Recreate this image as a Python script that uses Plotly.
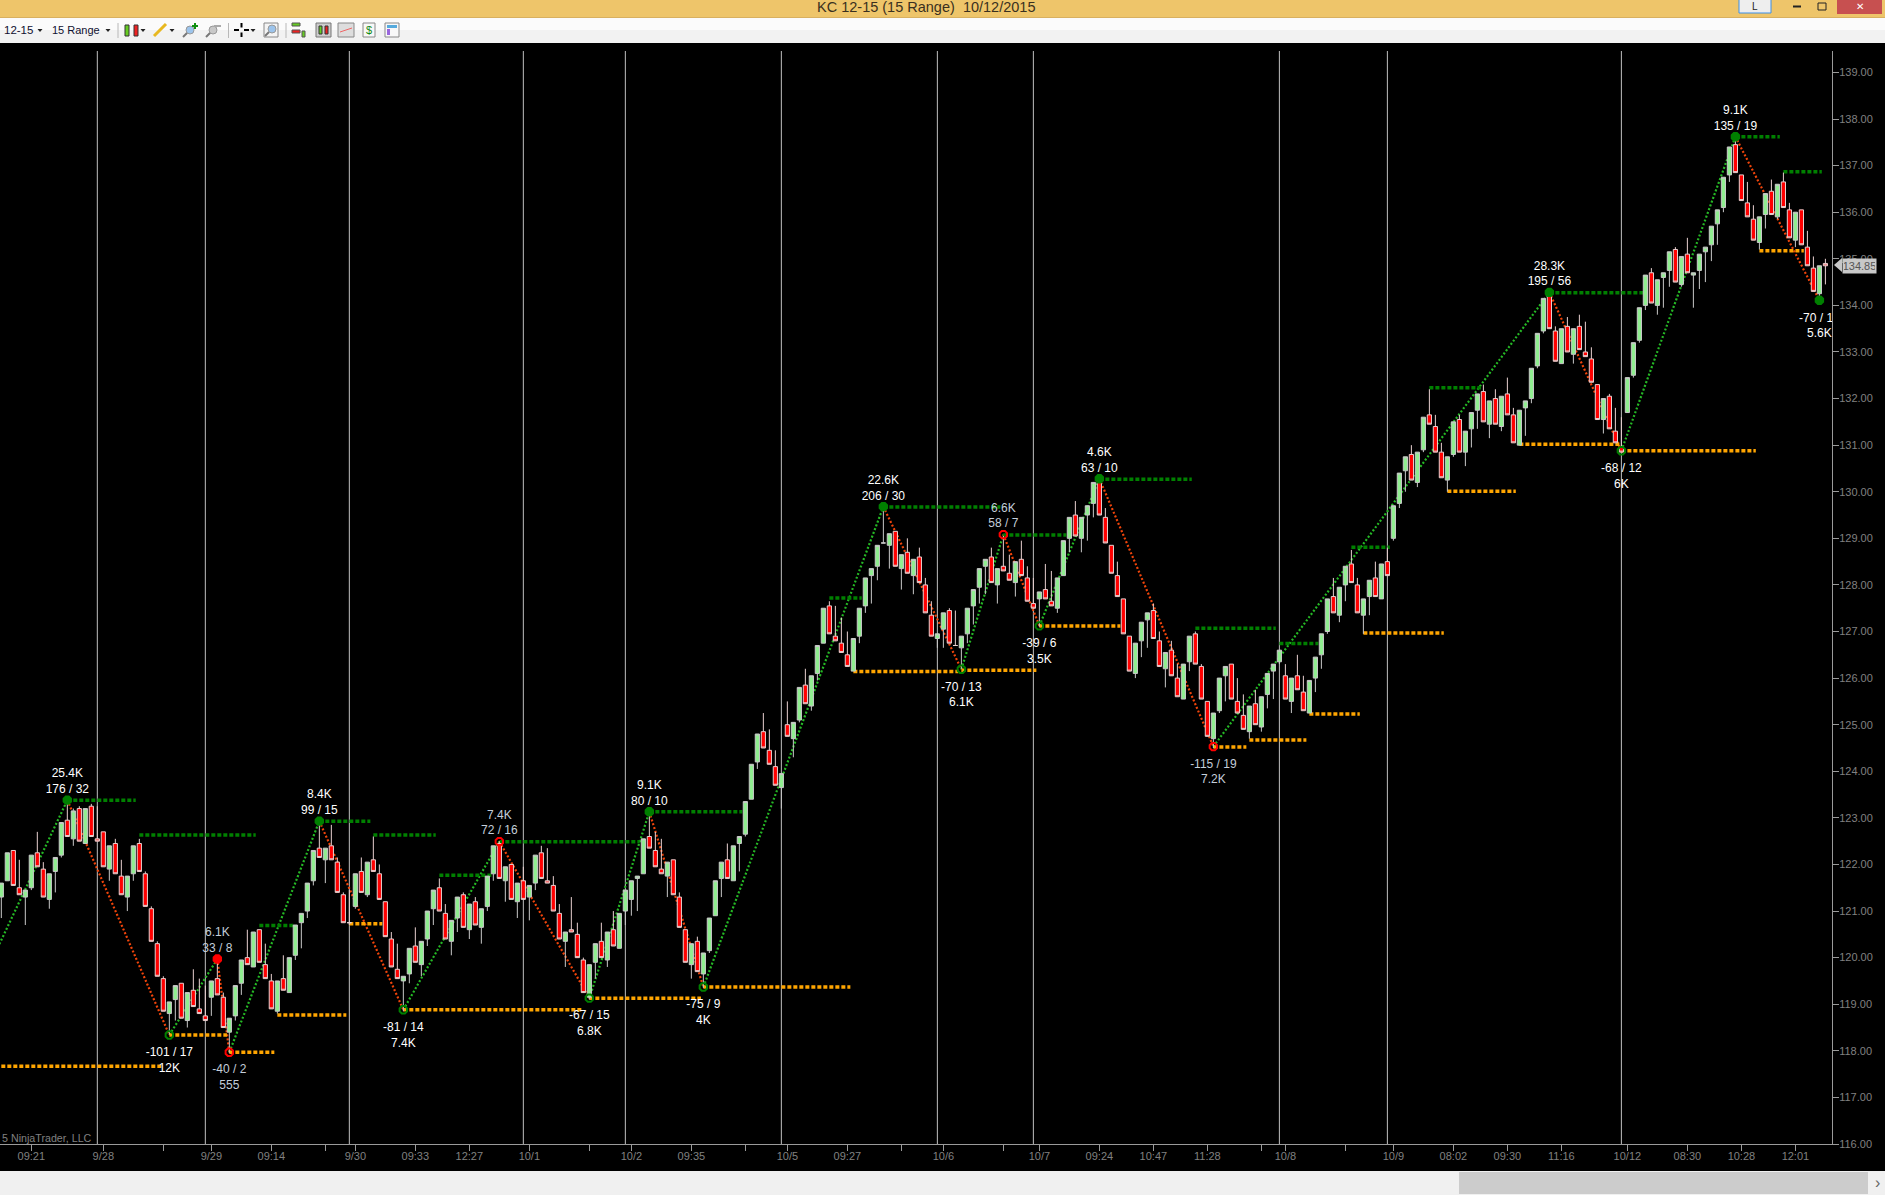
import plotly.graph_objects as go

# Candles, one per 15 range bar
opens = [121.30,121.65,122.30,121.50,121.30,121.50,122.25,121.90,121.25,121.85,
    122.20,122.95,122.55,123.20,122.45,123.25,122.55,122.70,121.90,122.45,
    121.75,121.30,121.80,122.45,121.80,121.05,120.30,119.55,118.80,119.10,
    119.45,118.65,119.30,118.90,118.75,119.15,119.55,119.15,118.40,118.75,
    119.45,120.00,119.80,120.60,119.85,119.50,118.85,119.55,119.25,120.05,
    120.75,121.00,121.65,122.35,122.10,122.40,122.05,121.35,120.75,121.10,
    121.85,121.35,122.10,121.80,121.20,120.40,119.75,119.50,119.65,120.25,
    119.85,120.40,121.05,121.50,120.95,120.35,120.85,121.35,120.60,121.20,
    120.65,121.10,121.80,122.45,121.65,122.00,121.20,121.65,121.30,121.60,
    122.25,121.65,121.55,120.95,120.35,120.60,120.50,119.95,119.15,119.90,
    120.35,119.95,120.60,120.20,121.00,121.25,121.70,121.80,122.60,122.30,
    121.90,121.75,122.10,121.30,120.60,119.85,120.35,119.65,120.15,120.90,
    121.70,122.10,121.65,122.45,122.65,123.40,124.20,124.85,124.45,124.10,
    123.65,125.00,124.70,125.10,125.85,125.40,126.10,126.75,127.55,126.90,
    126.75,126.50,126.15,126.90,127.55,128.20,128.40,128.90,128.85,129.15,
    128.35,128.70,128.20,128.60,128.00,127.35,126.85,127.05,127.45,126.70,
    126.65,126.95,127.55,127.95,128.40,128.60,128.00,128.40,128.25,128.05,
    128.55,128.15,127.60,127.70,127.90,127.65,127.50,128.20,129.00,129.50,
    129.00,129.50,129.75,130.25,129.45,128.85,128.20,127.70,126.90,126.10,
    126.80,127.25,127.45,126.80,126.20,126.60,126.00,125.55,126.35,126.95,
    126.25,125.50,124.70,125.30,126.05,126.30,125.50,125.20,124.85,125.45,
    124.95,125.65,126.15,126.35,126.05,125.50,126.05,125.70,125.25,126.00,
    126.50,127.00,127.75,127.35,128.00,128.45,128.00,127.35,127.75,128.15,
    127.70,128.50,129.00,129.75,130.45,130.80,130.20,130.90,131.65,131.40,
    130.85,130.25,130.80,131.55,130.85,131.35,131.75,132.15,131.45,132.00,
    131.40,132.10,131.65,131.00,131.80,132.00,132.70,133.45,134.20,133.45,
    132.75,133.55,132.95,133.55,133.00,132.85,132.30,131.55,132.05,131.30,
    130.95,131.70,132.50,133.25,134.00,134.70,134.00,134.60,134.75,135.20,
    134.45,135.10,134.65,134.75,135.15,135.30,135.75,136.10,136.80,137.45,
    136.80,136.20,135.85,135.35,135.95,136.45,135.90,136.65,136.05,135.40,
    136.05,135.25,134.80,134.25,134.90]
highs = [121.60,122.25,122.30,122.10,121.45,122.20,122.70,122.05,121.80,122.15,
    122.90,123.35,123.20,123.25,123.20,123.30,123.25,122.70,122.40,122.55,
    122.10,121.75,122.40,122.55,121.85,121.10,120.35,119.60,119.05,119.40,
    119.45,119.25,119.75,119.55,119.40,119.50,119.95,119.25,118.70,119.40,
    119.95,120.60,120.55,120.60,120.30,119.65,119.50,120.05,120.00,120.70,
    120.95,121.60,122.30,122.90,122.35,122.85,122.15,121.40,121.45,121.80,
    122.15,122.05,122.60,122.00,121.20,120.55,120.30,119.60,120.20,120.65,
    120.35,121.00,121.45,121.70,121.15,120.80,121.30,121.40,121.15,121.30,
    121.05,121.75,122.40,122.50,121.95,122.00,121.60,121.95,121.55,122.20,
    122.40,122.35,121.75,121.15,120.55,121.30,120.75,120.00,119.85,120.30,
    120.75,120.55,121.00,120.95,121.45,121.65,121.75,122.55,123.10,122.70,
    122.55,122.05,122.10,121.40,120.60,120.30,120.45,120.10,120.85,121.65,
    122.05,122.45,122.40,122.60,123.35,124.15,124.80,125.25,124.90,124.45,
    123.95,125.50,125.05,125.80,126.20,126.05,126.70,127.50,127.65,127.55,
    127.30,127.00,126.85,127.50,128.15,128.35,128.85,129.65,129.10,129.15,
    128.65,129.00,128.55,128.80,128.15,127.65,126.95,127.40,127.50,127.45,
    126.90,127.50,127.90,128.35,128.55,128.80,128.35,129.05,128.65,128.50,
    128.95,128.40,128.15,127.85,128.45,128.30,128.15,128.95,129.45,129.80,
    129.45,129.70,130.20,130.25,129.65,128.85,128.50,127.70,126.90,126.75,
    127.20,127.40,127.60,127.00,126.55,126.80,126.30,126.30,126.90,127.00,
    126.30,125.50,125.25,126.00,126.25,126.30,126.00,125.65,125.40,125.75,
    125.60,126.10,126.30,126.60,126.30,126.00,126.50,126.05,125.95,126.45,
    126.95,127.70,128.15,127.95,128.40,128.75,128.15,127.70,128.10,128.50,
    128.45,128.80,129.70,130.40,130.75,131.00,130.85,131.60,132.20,131.65,
    131.05,130.75,131.50,131.65,131.30,131.70,132.10,132.30,131.95,132.20,
    132.05,132.45,131.80,131.75,131.95,132.65,133.40,134.15,134.30,133.55,
    133.50,133.75,133.50,133.80,133.65,133.10,132.30,132.00,132.10,131.80,
    131.60,132.45,133.20,133.95,134.65,134.80,134.55,134.70,135.15,135.25,
    135.05,135.45,134.70,135.10,135.25,135.70,136.05,136.75,137.40,137.60,
    136.80,136.65,136.15,135.90,136.40,136.70,136.60,136.85,136.20,136.00,
    136.05,135.60,135.05,134.85,135.00]
lows = [120.85,121.65,121.55,121.35,120.70,121.45,121.95,121.30,121.05,121.40,
    122.15,122.60,122.40,122.50,122.45,122.60,122.50,121.95,121.65,121.80,
    121.35,121.00,121.65,121.85,121.10,120.35,119.60,118.85,118.35,118.65,
    118.70,118.50,118.95,118.80,118.65,118.75,119.20,118.50,117.95,118.65,
    119.20,119.85,119.80,119.90,119.55,118.90,118.80,119.30,119.25,119.95,
    120.20,120.85,121.55,122.15,121.60,122.10,121.40,120.75,120.70,121.05,
    121.40,121.30,121.85,121.25,120.45,119.80,119.55,118.85,119.45,119.90,
    119.60,120.25,120.70,121.00,120.40,120.05,120.55,120.65,120.40,120.70,
    120.30,121.00,121.65,121.70,121.20,121.25,120.85,121.25,120.80,121.45,
    121.70,121.60,121.00,120.40,119.80,120.55,120.00,119.25,119.10,119.55,
    120.00,119.80,120.25,120.20,120.70,120.90,121.00,121.80,122.35,121.95,
    121.80,121.30,121.35,120.65,119.90,119.55,119.70,119.35,120.10,120.90,
    121.30,121.70,121.65,121.85,122.60,123.40,124.05,124.50,124.15,123.70,
    123.20,124.75,124.30,125.05,125.45,125.30,125.95,126.75,126.95,126.80,
    126.55,126.25,126.15,126.75,127.40,127.60,128.10,128.90,128.35,128.40,
    127.90,128.25,127.80,128.05,127.40,126.90,126.65,126.65,126.75,126.70,
    126.20,126.75,127.15,127.60,127.80,128.05,127.60,128.30,128.10,127.75,
    128.20,127.65,127.50,127.10,127.70,127.55,127.40,128.20,128.70,129.05,
    128.70,128.95,129.45,129.50,128.90,128.25,127.75,126.95,126.15,126.00,
    126.45,126.65,126.85,126.25,125.80,126.05,125.60,125.55,126.15,126.30,
    125.55,124.75,124.50,125.25,125.50,125.55,125.25,124.90,124.70,125.00,
    124.85,125.35,125.55,126.30,125.55,125.25,125.75,125.30,125.25,125.70,
    126.20,126.95,127.40,127.20,127.65,128.05,127.40,126.95,127.35,127.75,
    127.70,128.20,128.95,129.65,130.00,130.25,130.10,130.85,131.45,130.85,
    130.30,130.00,130.75,130.85,130.55,130.95,131.35,131.50,131.15,131.45,
    131.30,131.65,131.05,131.00,131.20,131.90,132.65,133.40,133.50,132.80,
    132.75,133.00,132.75,133.05,132.90,132.35,131.55,131.25,131.35,131.05,
    130.85,131.70,132.45,133.20,133.90,134.05,133.80,133.95,134.40,134.50,
    134.40,134.70,133.95,134.35,134.50,134.95,135.30,136.00,136.65,136.85,
    136.25,135.90,135.40,135.20,135.65,135.95,135.85,136.10,135.45,135.25,
    135.30,134.85,134.30,134.10,134.45]
closes = [121.60,122.25,121.55,121.35,121.45,122.20,121.95,121.30,121.80,122.15,
    122.90,122.60,123.15,122.50,123.20,122.60,122.50,121.95,122.40,121.80,
    121.35,121.75,122.40,121.85,121.10,120.35,119.60,118.85,119.05,119.40,
    118.70,119.25,118.95,118.80,118.65,119.50,119.20,118.50,118.70,119.40,
    119.95,119.85,120.55,119.90,119.55,118.90,119.50,119.30,120.00,120.70,
    120.95,121.60,122.30,122.15,122.35,122.10,121.40,120.75,120.75,121.80,
    121.40,122.05,121.85,121.25,120.45,119.80,119.55,119.60,120.20,119.90,
    120.35,121.00,121.45,121.00,120.40,120.80,121.30,120.65,121.15,120.70,
    121.05,121.75,122.40,121.70,121.95,121.25,121.60,121.25,121.55,122.20,
    121.70,121.60,121.00,120.40,120.55,120.55,120.00,119.25,119.85,120.30,
    120.00,120.55,120.25,120.95,121.45,121.65,121.75,122.55,122.35,121.95,
    121.80,122.05,121.35,120.65,119.90,120.30,119.70,120.10,120.85,121.65,
    122.05,121.70,122.40,122.60,123.35,124.15,124.80,124.50,124.15,123.70,
    123.95,124.75,125.05,125.80,125.45,126.05,126.70,127.50,126.95,126.80,
    126.55,126.25,126.85,127.50,128.15,128.35,128.85,128.90,129.10,128.40,
    128.65,128.25,128.55,128.05,127.40,126.90,126.95,127.40,126.75,126.70,
    126.90,127.50,127.90,128.35,128.55,128.05,128.35,128.30,128.10,128.50,
    128.20,127.65,127.50,127.85,127.70,127.55,128.15,128.95,129.45,129.05,
    129.45,129.70,130.20,129.50,128.90,128.25,127.75,126.95,126.15,126.75,
    127.20,127.40,126.85,126.25,126.55,126.05,125.60,126.30,126.90,126.30,
    125.55,124.75,125.25,126.00,126.25,125.55,125.25,124.90,125.40,125.00,
    125.60,126.10,126.30,126.60,125.55,126.00,125.75,125.30,125.95,126.45,
    126.95,127.70,127.40,127.95,128.40,128.05,127.40,127.70,128.10,127.75,
    128.45,128.20,129.70,130.40,130.75,130.25,130.85,131.60,131.45,130.85,
    130.30,130.75,131.50,130.85,131.30,131.70,132.10,131.50,131.95,131.45,
    132.05,131.65,131.05,131.75,131.95,132.65,133.40,134.15,133.50,132.80,
    133.50,133.00,133.50,133.05,132.90,132.35,131.55,132.00,131.35,131.05,
    130.85,132.45,133.20,133.95,134.65,134.05,134.55,134.70,135.15,134.50,
    135.05,134.70,134.70,135.10,135.25,135.70,136.05,136.75,137.40,136.85,
    136.25,135.90,135.40,135.90,136.40,135.95,136.60,136.10,135.45,136.00,
    135.30,134.85,134.30,134.85,134.85]

# Swing points of the zigzag, the first one is off screen to the left
swing_bars = [-10, 11, 28, 36, 38, 53, 67, 83, 98, 108, 117, 147, 160, 167, 173, 183, 202, 258, 270, 289, 303]
swing_prices = [117.65, 123.38, 118.34, 119.97, 117.97, 122.93, 118.88, 122.49, 119.13, 123.13, 119.37,
                129.68, 126.19, 129.08, 127.12, 130.28, 124.53, 134.28, 130.88, 137.62, 134.11]
swing_labels = ["", "25.4K<br>176 / 32", "-101 / 17<br>12K", "6.1K<br>33 / 8", "-40 / 2<br>555",
                "8.4K<br>99 / 15", "-81 / 14<br>7.4K", "7.4K<br>72 / 16", "-67 / 15<br>6.8K",
                "9.1K<br>80 / 10", "-75 / 9<br>4K", "22.6K<br>206 / 30", "-70 / 13<br>6.1K",
                "6.6K<br>58 / 7", "-39 / 6<br>3.5K", "4.6K<br>63 / 10", "-115 / 19<br>7.2K",
                "28.3K<br>195 / 56", "-68 / 12<br>6K", "9.1K<br>135 / 19", "-70 / 19<br>5.6K"]
# Which swings got the red marker, and which markers are filled in
red_swings = [36, 38, 83, 167, 202]
filled_swings = [11, 36, 53, 108, 147, 183, 258, 289, 303]

# Dotted levels: first bar, last bar, price
green_starts = [11, 23, 43, 53, 62, 73, 83, 108, 138, 147, 167, 183, 199, 213, 225, 238, 258, 289, 297]
green_ends = [22.4, 42.4, 48.7, 61.5, 72.4, 82, 106.4, 123.5, 143.4, 166.5, 177.5, 198.4, 212.4, 219.5, 231.4, 246.6, 274, 296.4, 303.4]
green_levels = [123.38, 122.63, 120.69, 122.93, 122.63, 121.77, 122.49, 123.13, 127.72, 129.67, 129.07,
                130.27, 127.07, 126.74, 128.81, 132.23, 134.27, 137.62, 136.87]
orange_starts = [-10, 28, 38, 46, 58, 67, 98, 117, 142, 160, 173, 202, 208, 218, 227, 241, 253, 270, 293]
orange_ends = [27, 37.6, 45.5, 57.5, 63.5, 97, 116.6, 141.5, 159.5, 172.5, 186.5, 207.5, 217.5, 226.4, 240.4, 252.4, 269.7, 292.4, 300.4]
orange_levels = [117.67, 118.34, 117.97, 118.77, 120.73, 118.88, 119.13, 119.37, 126.14, 126.17, 127.12,
                 124.52, 124.67, 125.23, 126.97, 130.01, 131.02, 130.88, 135.17]

session_bars = [16, 34, 58, 87, 104, 130, 156, 172, 213, 231, 270]
tick_bars = [5, 17, 27, 35, 45, 54, 59, 69, 78, 88, 98, 105, 115, 124, 131, 141, 150, 157, 167, 173, 183, 192,
             201, 210, 214, 224, 232, 242, 251, 260, 271, 281, 290, 299]
tick_labels = ["09:21", "9/28", "", "9/29", "09:14", "", "9/30", "09:33", "12:27", "10/1", "", "10/2", "09:35", "",
               "10/5", "09:27", "", "10/6", "", "10/7", "09:24", "10:47", "11:28", "", "10/8", "", "10/9", "08:02",
               "09:30", "11:16", "10/12", "08:30", "10:28", "12:01"]
price_ticks = list(range(116, 140))
last_price = 134.85

FONT = "Liberation Sans"
X_RANGE = [-0.22, 305.1]
Y_RANGE = [116, 139.46]
FIG_W, FIG_H = 1885, 1195
M_TOP, M_BOTTOM, M_RIGHT = 51, 51, 53


def level_trace(starts, ends, levels, color):
    xs, ys = [], []
    for a, b, p in zip(starts, ends, levels):
        xs += [a, b, None]
        ys += [p, p, None]
    return go.Scatter(x=xs, y=ys, mode="lines", hoverinfo="skip", showlegend=False,
                      line=dict(color=color, width=3.5, dash="4px,2px"))


fig = go.Figure()

# Bottom layer: zigzag and levels, so the candles cover them
for n in range(len(swing_bars) - 1):
    color = "#25B825" if swing_prices[n + 1] > swing_prices[n] else "#F0440A"
    fig.add_trace(go.Scatter(x=swing_bars[n:n + 2], y=swing_prices[n:n + 2], mode="lines", hoverinfo="skip",
                             showlegend=False, line=dict(color=color, width=2.2, dash="2px,2px")))
fig.add_trace(level_trace(green_starts, green_ends, green_levels, "#008000"))
fig.add_trace(level_trace(orange_starts, orange_ends, orange_levels, "#FFA500"))

# Candles on the first overlay
fig.add_trace(go.Candlestick(
    x=list(range(len(opens))), open=opens, high=highs, low=lows, close=closes,
    xaxis="x2", yaxis="y2", hoverinfo="skip", showlegend=False, whiskerwidth=0,
    increasing=dict(fillcolor="#90EE90", line=dict(color="#C8C8C8", width=1)),
    decreasing=dict(fillcolor="#FF0000", line=dict(color="#E8D0D0", width=1)),
))

# Swing markers and their labels on the second overlay
marker_line = ["#FF0000" if b in red_swings else "#008000" for b in swing_bars]
marker_fill = [c if b in filled_swings else "rgba(0,0,0,0)" for b, c in zip(swing_bars, marker_line)]
fig.add_trace(go.Scatter(x=swing_bars, y=swing_prices, mode="markers", xaxis="x3", yaxis="y3", hoverinfo="skip",
                         showlegend=False,
                         marker=dict(symbol="octagon", size=8, color=marker_fill, line=dict(color=marker_line, width=2))))

for side, size, pos in [(1, 5, "top center"), (-1, 18, "bottom center")]:
    idx = [n for n in range(1, len(swing_bars)) if (swing_prices[n] - swing_prices[n - 1]) * side > 0]
    fig.add_trace(go.Scatter(
        x=[swing_bars[n] for n in idx], y=[swing_prices[n] for n in idx],
        text=[swing_labels[n] for n in idx], mode="markers+text", textposition=pos,
        xaxis="x3", yaxis="y3", hoverinfo="skip", showlegend=False,
        marker=dict(size=size, opacity=0),
        textfont=dict(family=FONT, size=12, color=["#C4CEDA" if swing_bars[n] in red_swings else "#FFFFFF" for n in idx]),
    ))

for b in session_bars:
    fig.add_shape(type="line", x0=b, x1=b, y0=0, y1=1, xref="x", yref="y domain", layer="below",
                  line=dict(color="#C0C0C0", width=1))


# Window furniture around the chart is placed by screen pixel
plot_h = FIG_H - M_TOP - M_BOTTOM
plot_w = FIG_W - M_RIGHT


def sx(px):
    return px / plot_w


def sy(py):
    return (FIG_H - M_BOTTOM - py) / plot_h


def box(x0, y0, x1, y1, color, line=None):
    fig.add_shape(type="rect", xref="paper", yref="paper", x0=sx(x0), x1=sx(x1), y0=sy(y0), y1=sy(y1),
                  fillcolor=color, line=dict(color=line or color, width=1 if line else 0), layer="above")


def stroke(x0, y0, x1, y1, color, width=1):
    fig.add_shape(type="line", xref="paper", yref="paper", x0=sx(x0), x1=sx(x1), y0=sy(y0), y1=sy(y1),
                  line=dict(color=color, width=width), layer="above")


def label(px, py, text, color="#000000", size=12, anchor="left", **kw):
    fig.add_annotation(xref="paper", yref="paper", x=sx(px), y=sy(py), text=text, showarrow=False,
                       xanchor=anchor, yanchor="middle", font=dict(family=FONT, size=size, color=color), **kw)


def arrow(px, py):
    fig.add_shape(type="path", xref="paper", yref="paper", layer="above", fillcolor="#222222", line=dict(width=0),
                  path=f"M {sx(px - 2.5)} {sy(py - 1)} L {sx(px + 2.5)} {sy(py - 1)} L {sx(px)} {sy(py + 2)} Z")


# Title bar
box(0, 0, FIG_W, 17, "#EEC56A")
stroke(0, 17.5, FIG_W, 17.5, "#D8B060")
label(925.5, 7, "KC 12-15 (15 Range)  10/12/2015", color="#3A3020", size=14.5, anchor="center")
box(1739, -1, 1771, 13, "#EEEEEE", "#3B8FE8")
label(1755, 6, "L", color="#222222", size=10, anchor="center")
stroke(1793, 6.5, 1801, 6.5, "#222222", 2)
box(1818, 3, 1826, 10, "rgba(0,0,0,0)", "#222222")
box(1837, 0, 1882, 14, "#C75050")
label(1859.5, 6, "✕", color="#FFFFFF", size=10, anchor="center")

# Toolbar
box(0, 18, FIG_W, 30, "#FBFBFB")
box(0, 30, FIG_W, 43, "#F2F2F2")
label(2, 30, "12-15", color="#101030", size=11.5)
arrow(40, 30)
label(50, 30, "15 Range", color="#101030", size=11)
arrow(108, 30)
for px in [118, 228.5, 286]:
    stroke(px, 23, px, 38, "#B8B8B8")
# chart style, drawing tool and the other buttons
box(125, 25, 129, 36, "#66CC22", "#333333")
box(134, 25, 138, 36, "#EE2222", "#333333")
arrow(143, 30)
stroke(154, 36, 166, 24, "#E8B820", 3)
arrow(172, 30)
for px, col in [(189, "#9CC4EC"), (212, "#C8C8C8")]:
    stroke(px - 6, 37, px - 1, 32, "#777777", 2)
    fig.add_shape(type="circle", xref="paper", yref="paper", x0=sx(px - 3), x1=sx(px + 5), y0=sy(26), y1=sy(34),
                  fillcolor=col, line=dict(color="#999999", width=1), layer="above")
stroke(192, 26, 198, 26, "#109010", 2)
stroke(195, 23, 195, 29, "#109010", 2)
stroke(214, 26, 221, 26, "#AAAAAA", 2)
for a, b, c, d in [(234, 30, 239, 30), (244, 30, 249, 30), (241.5, 23, 241.5, 27.5), (241.5, 32.5, 241.5, 37)]:
    stroke(a, b, c, d, "#000000", 2)
arrow(253, 30)
box(264, 23, 278, 37, "#F4F4F4", "#888888")
stroke(265, 36, 269, 32, "#777777", 2)
fig.add_shape(type="circle", xref="paper", yref="paper", x0=sx(268), x1=sx(276), y0=sy(25), y1=sy(33),
              fillcolor="#9CC4EC", line=dict(color="#999999", width=1), layer="above")
box(292, 23, 300, 26, "#66CC22", "#555555")
box(292, 30, 300, 33, "#EE2222", "#555555")
box(302, 31, 305, 37, "#66CC22", "#555555")
box(316, 23, 331, 37, "#CCCCCC", "#777777")
box(319, 26, 322, 34, "#66CC22", "#333333")
box(325, 26, 328, 34, "#EE2222", "#333333")
box(338, 23, 354, 37, "#DDDDDD", "#888888")
stroke(340, 32, 352, 28, "#EE6666", 1)
box(363, 23, 375, 37, "#F8F8F8", "#888888")
label(369, 30, "$", color="#118811", size=11, anchor="center")
box(385, 23, 399, 37, "#F8F8F8", "#888888")
box(387, 25, 397, 28, "#55AADD")
box(387, 29, 390, 35, "#9966DD")

# Scrollbar along the bottom
box(0, 1171, FIG_W, FIG_H, "#F0F0F0")
box(1459, 1172, 1868, 1194, "#CCCCCC")
label(1877, 1182, "›", color="#666666", size=16, anchor="center")

# Copyright line, cut off at the left edge in the original
label(0, 1138, "5 NinjaTrader, LLC", color="#808080", size=10.7, anchor="left")

# Last price flag on the price axis
fig.add_shape(type="path", xref="paper", yref="paper", fillcolor="#C8C8C8", line=dict(width=0), layer="above",
              path=f"M {sx(1834)} {sy(265)} L {sx(1842)} {sy(258)} L {sx(1842)} {sy(272)} Z")
fig.add_annotation(xref="paper", yref="y", x=sx(1842), y=last_price, text=f"{last_price:.2f}", showarrow=False,
                   xanchor="left", yanchor="middle", bgcolor="#C8C8C8", borderpad=1, width=31,
                   font=dict(family=FONT, size=11, color="#555555"))

axis_line = "#9A9A9A"
hidden_x = dict(range=X_RANGE, overlaying="x", visible=False, fixedrange=True, rangeslider=dict(visible=False))
hidden_y = dict(range=Y_RANGE, overlaying="y", visible=False, fixedrange=True, anchor="x")
fig.update_layout(
    width=FIG_W, height=FIG_H, autosize=False,
    margin=dict(l=0, r=M_RIGHT, t=M_TOP, b=M_BOTTOM, pad=0),
    paper_bgcolor="#000000", plot_bgcolor="#000000",
    showlegend=False, boxgap=0.3, boxgroupgap=0, hovermode=False,
    font=dict(family=FONT, size=11, color="#808080"),
    xaxis=dict(range=X_RANGE, tickmode="array", tickvals=tick_bars, ticktext=tick_labels, ticks="outside",
               ticklen=6, tickcolor=axis_line, showgrid=False, zeroline=False, showline=True, linecolor=axis_line,
               ticklabelstandoff=-4, rangeslider=dict(visible=False), tickangle=0,
               tickfont=dict(family=FONT, size=11, color="#808080")),
    yaxis=dict(range=Y_RANGE, side="right", tickmode="array", tickvals=price_ticks,
               ticktext=[f"{p:.2f}" for p in price_ticks], ticks="outside", ticklen=6, tickcolor=axis_line,
               ticklabelstandoff=-2, showgrid=False, zeroline=False, showline=True, linecolor=axis_line,
               tickfont=dict(family=FONT, size=11, color="#808080")),
    xaxis2=hidden_x, xaxis3=dict(range=X_RANGE, overlaying="x", visible=False),
    yaxis2=hidden_y, yaxis3=dict(range=Y_RANGE, overlaying="y", visible=False),
)

fig.write_html("out.html", post_script="document.body.style.margin='0';", config={"displayModeBar": False})
